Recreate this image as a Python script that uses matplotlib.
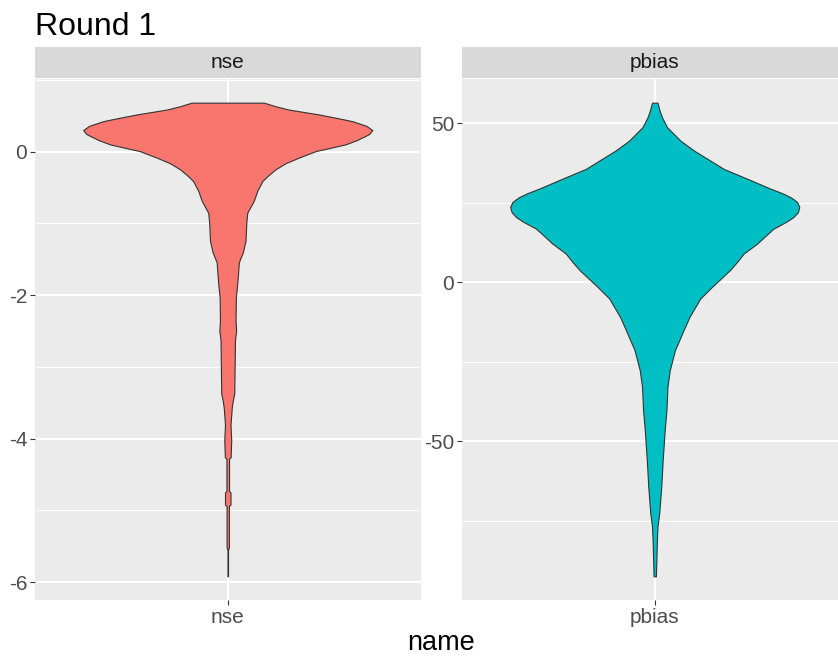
import matplotlib
matplotlib.use('Agg')
import matplotlib.pyplot as plt

plt.rcParams['font.family'] = ['Liberation Sans', 'DejaVu Sans']

# Violin outlines: value on the y axis and relative density (1 = widest point)
nse_y = [0.684, 0.635, 0.589, 0.52, 0.473, 0.427, 0.36, 0.302, 0.25, 0.218,
         0.16, 0.103, 0.05, 0.01, -0.083, -0.16, -0.245, -0.33, -0.407,
         -0.546, -0.685, -0.85, -1.005, -1.24, -1.40, -1.54, -1.84, -2.03,
         -2.35, -2.49, -2.63, -3.37, -3.47, -3.56, -3.81, -4.02, -4.26,
         -4.28, -4.73, -4.75, -4.92, -4.94, -5.52, -5.55, -5.92]
nse_dens = [0.25, 0.33, 0.42, 0.63, 0.75, 0.86, 0.96, 1.00, 0.98, 0.95,
            0.89, 0.815, 0.70, 0.61, 0.49, 0.40, 0.33, 0.28, 0.24,
            0.204, 0.18, 0.135, 0.128, 0.123, 0.105, 0.077, 0.066, 0.056,
            0.054, 0.058, 0.05, 0.045, 0.035, 0.028, 0.019, 0.024, 0.02,
            0.009, 0.009, 0.019, 0.019, 0.008, 0.008, 0.002, 0.002]

pbias_y = [56.4, 54.0, 51.8, 48.7, 44.5, 41.4, 35.6, 32.5, 29.4, 28.0, 26.7,
           25.2, 23.6, 22.0, 20.5, 19.0, 16.8, 12.1, 9.0, 6.4, 3.8, -1.5,
           -5.1, -10.9, -15.0, -21.3, -27.6, -32.8, -40.1, -46.4, -55.8,
           -64.2, -72.5, -76.7, -80.9, -92.4]
pbias_dens = [0.019, 0.033, 0.05, 0.085, 0.177, 0.27, 0.477, 0.64, 0.80, 0.88,
              0.94, 0.985, 1.0, 0.99, 0.96, 0.91, 0.82, 0.707, 0.615, 0.57,
              0.52, 0.395, 0.315, 0.24, 0.20, 0.14, 0.104, 0.088, 0.081,
              0.069, 0.055, 0.045, 0.031, 0.019, 0.015, 0.008]

panels = ['nse', 'pbias']
fill_colors = ['#F8766D', '#00BFC4']
major_breaks = [[-6, -4, -2, 0], [-50, 0, 50]]
minor_breaks = [[-5, -3, -1, 1], [-75, -25, 25]]
profiles = [(nse_y, nse_dens), (pbias_y, pbias_dens)]

W, H = 838, 656
fig = plt.figure(figsize=(W / 100, H / 100), dpi=100)

panel_left = [35, 462]
panel_w = 385.5
panel_top, panel_bottom = 79, 600
strip_top, strip_bottom = 47, 78

for i, name in enumerate(panels):
    ys, dens = profiles[i]
    ax = fig.add_axes([panel_left[i] / W, 1 - panel_bottom / H,
                       panel_w / W, (panel_bottom - panel_top) / H])
    ax.set_facecolor('#EBEBEB')
    for s in ax.spines.values():
        s.set_visible(False)

    lo, hi = min(ys), max(ys)
    pad = 0.05 * (hi - lo)
    ax.set_ylim(lo - pad, hi + pad)
    ax.set_xlim(0.4, 1.6)

    # grid
    for b in minor_breaks[i]:
        ax.axhline(b, color='white', lw=0.7, zorder=0)
    for b in major_breaks[i]:
        ax.axhline(b, color='white', lw=1.4, zorder=0)
    ax.axvline(1, color='white', lw=1.4, zorder=0)

    # violin
    half = [0.45 * d for d in dens]
    ax.fill_betweenx(ys, [1 - h for h in half], [1 + h for h in half],
                     facecolor=fill_colors[i], edgecolor='#333333',
                     linewidth=0.8, zorder=2)

    ax.set_yticks(major_breaks[i])
    ax.set_yticklabels([str(b) for b in major_breaks[i]])
    ax.set_xticks([1])
    ax.set_xticklabels([name])
    ax.tick_params(axis='both', length=3.6, width=0.8, color='#333333',
                   labelsize=15, labelcolor='#4D4D4D', pad=2)

    # facet strip
    sax = fig.add_axes([panel_left[i] / W, 1 - strip_bottom / H,
                        panel_w / W, (strip_bottom - strip_top) / H])
    sax.set_facecolor('#D9D9D9')
    sax.set_xticks([])
    sax.set_yticks([])
    for s in sax.spines.values():
        s.set_visible(False)
    sax.text(0.5, 0.5, name, ha='center', va='center', fontsize=15,
             color='#1A1A1A', transform=sax.transAxes)

fig.text(441 / W, 1 - 643 / H, 'name', ha='center', va='center',
         fontsize=19.5, color='black')
fig.text(35 / W, 1 - 35 / H, 'Round 1', ha='left', va='baseline',
         fontsize=23, color='black')

fig.savefig('out.png', dpi=100)
